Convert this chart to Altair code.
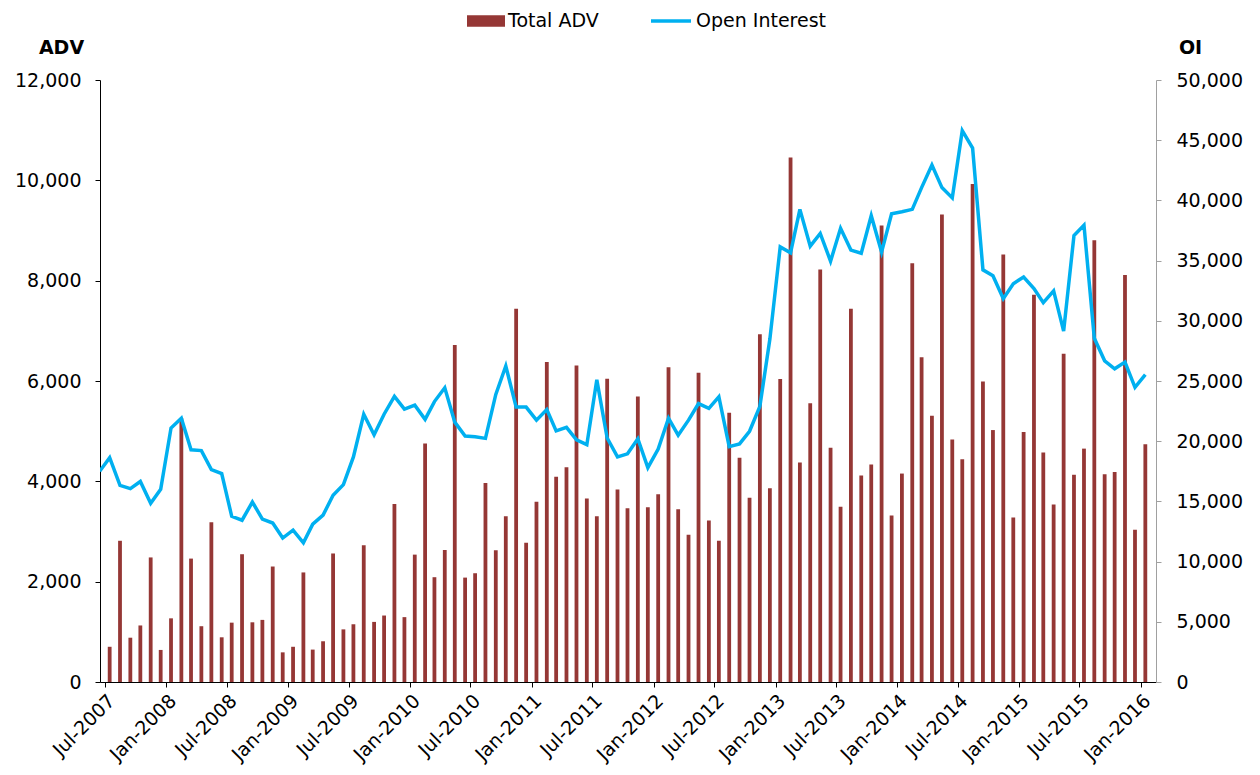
import altair as alt
import pandas as pd

# Monthly Total ADV (Jul-2007 .. Jan-2016)
adv = [702, 2815, 883, 1127, 2483, 639, 1269, 5259, 2460, 1112, 3185, 891, 1183, 2547, 1190, 1238, 2302,
       591, 702, 2184, 646, 812, 2562, 1049, 1151, 2728, 1198, 1325, 3548, 1293, 2539, 4754, 2089, 2633,
       6717, 2081, 2168, 3966, 2625, 3303, 7442, 2775, 3595, 6378, 4092, 4281, 6307, 3658, 3303, 6047, 3839,
       3461, 5692, 3485, 3745, 6276, 3445, 2933, 6165, 3217, 2815, 5369, 4470, 3674, 6930, 3863, 6039, 10454,
       4376, 5558, 8223, 4667, 3493, 7442, 4115, 4336, 9098, 3319, 4155, 8349, 6473, 5306, 9319, 4833, 4439, 9926,
       5992, 5022, 8523, 3280, 4983, 7718, 4573, 3540, 6544, 4131, 4652, 8806, 4139, 4186, 8113, 3035, 4738]

# Monthly Open Interest (Jul-2007 .. Jan-2016)
oi = [18626, 16326, 16064, 16655, 14848, 15998, 21090, 21911, 19283, 19217, 17640, 17312, 13764, 13436, 14947, 13534, 13206,
      11957, 12614, 11563, 13107, 13863, 15505, 16392, 18692, 22239, 20531, 22239, 23718, 22667, 22995, 21812, 23291, 24440,
      21582, 20433, 20367, 20236, 23882, 26247, 22831, 22831, 21747, 22634, 20860, 21155, 20104, 19710, 25097, 20268, 18692,
      18954, 20203, 17805, 19349, 21911, 20498, 21747, 23126, 22732, 23685, 19546, 19776, 20827, 22896, 28481, 36135, 35642,
      39256, 36201, 37252, 34952, 37679, 35872, 35609, 38730, 35708, 38894, 39059, 39256, 41063, 42935, 41063, 40208, 45792, 44348,
      34230, 33737, 31832, 33080, 33638, 32686, 31503, 32489, 29138, 37088, 37942, 28547, 26674, 26017, 26576, 24473, 25524]

# Open Interest of the month before the axis start (clipped at the left edge)
oi_prior_date = "2007-06-15"
oi_prior = 17500

months = pd.date_range("2007-07-01", periods=len(adv), freq="MS") + pd.Timedelta(days=14)
dates = [d.strftime("%Y-%m-%d") for d in months]

bars_df = pd.DataFrame({"date": dates, "adv": adv, "series": "Total ADV"})
line_df = pd.DataFrame({"date": [oi_prior_date] + dates, "oi": [oi_prior] + oi,
                        "series": "Open Interest"})

FONT = "DejaVu Sans"
FS = 19
BAR_COLOR = "#953735"
LINE_COLOR = "#00B0F0"

tick_values = []
for yr in range(2007, 2017):
    for mo in (1, 7):
        if (2007, 7) <= (yr, mo) <= (2016, 1):
            tick_values.append(alt.DateTime(year=yr, month=mo, date=1, utc=True))

x_enc = alt.X(
    "date:T",
    scale=alt.Scale(type="utc",
                    domain=[alt.DateTime(year=2007, month=7, date=1, utc=True),
                            alt.DateTime(year=2016, month=2, date=1, utc=True)]),
    axis=alt.Axis(values=tick_values, format="%b-%Y", labelAngle=-45, labelAlign="right",
                  labelBaseline="top", labelPadding=4, labelFont=FONT, labelFontSize=FS,
                  labelColor="black", domainColor="black", tickColor="black", tickSize=5,
                  grid=False, title=None, labelOverlap=False, labelFlush=False),
)

bars = alt.Chart(bars_df).mark_bar(size=3.8).encode(
    x=x_enc,
    y=alt.Y("adv:Q",
            scale=alt.Scale(domain=[0, 12000], nice=False),
            axis=alt.Axis(values=list(range(0, 12001, 2000)), format=",d", grid=False,
                          title="ADV", titleAngle=0, titleX=-39, titleY=-27, titleAlign="center",
                          titleBaseline="alphabetic", titleFont=FONT, titleFontSize=FS,
                          titleFontWeight="bold", titleColor="black",
                          labelFont=FONT, labelFontSize=FS, labelColor="black", labelPadding=14,
                          domainColor="black", tickColor="black", tickSize=5)),
    fill=alt.Fill("series:N",
                  scale=alt.Scale(domain=["Total ADV"], range=[BAR_COLOR]),
                  legend=alt.Legend(orient="none", legendX=367, legendY=-78, title=None,
                                    symbolType="M-1,-0.3H1V0.3H-1Z", symbolSize=1444,
                                    symbolStrokeWidth=0, labelFont=FONT, labelFontSize=FS,
                                    labelColor="black", labelOffset=3)),
)

line = alt.Chart(line_df).mark_line(strokeWidth=3.5, clip=True).encode(
    x=x_enc,
    y=alt.Y("oi:Q",
            scale=alt.Scale(domain=[0, 50000], nice=False),
            axis=alt.Axis(orient="right", values=list(range(0, 50001, 5000)), format=",d", grid=False,
                          title="OI", titleAngle=0, titleX=34, titleY=-27, titleAlign="center",
                          titleBaseline="alphabetic", titleFont=FONT, titleFontSize=FS,
                          titleFontWeight="bold", titleColor="black",
                          labelFont=FONT, labelFontSize=FS, labelColor="black", labelPadding=15,
                          domainColor="#A0A0A0", tickColor="#A0A0A0", tickSize=5)),
    stroke=alt.Stroke("series:N",
                      scale=alt.Scale(domain=["Open Interest"], range=[LINE_COLOR]),
                      legend=alt.Legend(orient="none", legendX=549, legendY=-81, title=None,
                                        symbolType="stroke", symbolSize=1600, symbolStrokeWidth=3.5,
                                        labelFont=FONT, labelFontSize=FS, labelColor="black",
                                        labelOffset=3)),
)

chart = alt.layer(bars, line).resolve_scale(y="independent").properties(
    width=1056,
    height=602,
    autosize=alt.AutoSizeParams(type="none"),
    padding={"left": 92, "top": 72, "right": 90, "bottom": 92},
).configure_view(stroke=None)

chart.save("out.html", embed_options={"renderer": "svg", "actions": False})
